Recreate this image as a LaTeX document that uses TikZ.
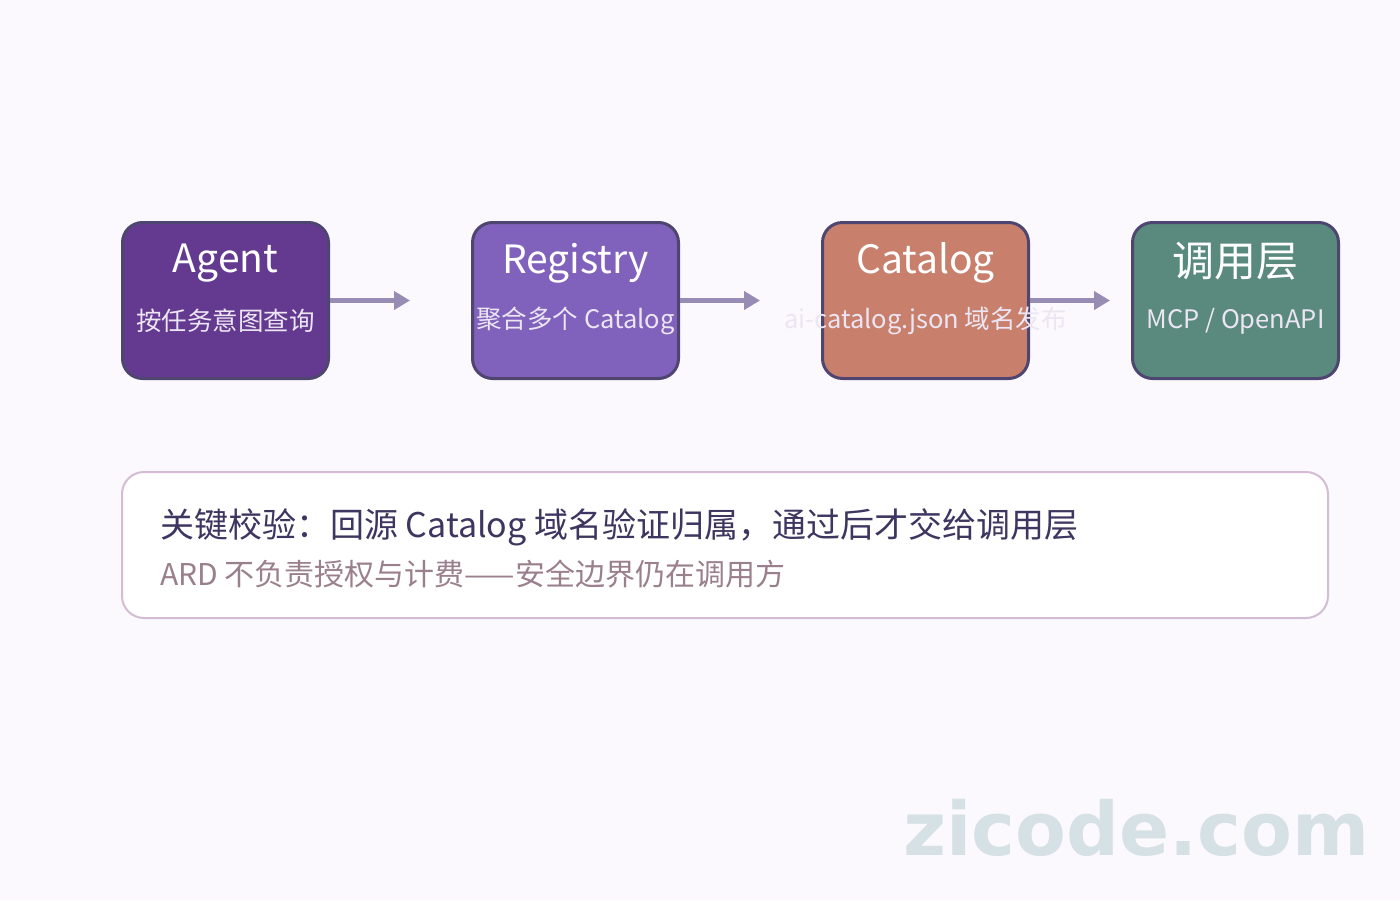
\documentclass[tikz,border=0pt]{standalone}
\usepackage{fontspec}
\setmainfont{Noto Sans CJK SC}
\newfontfamily\markfont{DejaVu Sans}
\usetikzlibrary{arrows.meta}
\definecolor{pagebg}{HTML}{FBF9FE}
\definecolor{stageline}{HTML}{4E4670}
\definecolor{agentfill}{HTML}{643A91}
\definecolor{registryfill}{HTML}{8061BB}
\definecolor{catalogfill}{HTML}{C8806C}
\definecolor{layerfill}{HTML}{5A8A7E}
\definecolor{flowcol}{HTML}{968CB4}
\definecolor{subtext}{HTML}{ECE6F4}
\definecolor{noteline}{HTML}{D4BCD4}
\definecolor{notetext}{HTML}{3E3560}
\definecolor{notesub}{HTML}{9A7F8C}
\definecolor{markcol}{HTML}{D6E1E5}

\tikzset{
  stage/.style={draw=stageline, line width=3pt, rounded corners=20pt,
    minimum width=206pt, minimum height=156pt, inner sep=0pt},
  stagetitle/.style={text=white, font=\fontsize{39}{44}\selectfont, inner sep=0pt},
  stagesub/.style={text=subtext, font=\fontsize{25.5}{30}\selectfont, inner sep=0pt},
  flow/.style={draw=flowcol, line width=5pt, -{Triangle[length=16pt,width=18pt]}},
}

\begin{document}
\begin{tikzpicture}[x=1pt,y=-1pt]
\fill[pagebg] (0,0) rectangle (1400,900);
\useasboundingbox (0,0) rectangle (1400,900);

% the four stages
\node[stage, fill=agentfill] (agent) at (225.5,300.5) {};
\node[stage, fill=registryfill] (registry) at (575.5,300.5) {};
\node[stage, fill=catalogfill] (catalog) at (925.5,300.5) {};
\node[stage, fill=layerfill] (layer) at (1235.5,300.5) {};

\node[stagetitle] (agenttitle) at (225.5,263) {Agent};
\node[stagesub] (agentsub) at (225.5,321) {按任务意图查询};
\node[stagetitle] (registrytitle) at (575.5,263) {Registry};
\node[stagesub] (registrysub) at (575.5,321) {聚合多个 Catalog};
\node[stagetitle] (catalogtitle) at (925.5,263) {Catalog};
\node[stagesub] (catalogsub) at (925.5,321) {ai-catalog.json 域名发布};
\node[stagetitle, font=\fontsize{42}{46}\selectfont] (layertitle) at (1235.5,261) {调用层};
\node[stagesub] (layersub) at (1235.5,321) {MCP / OpenAPI};

\draw[flow, shorten >=61pt] (agent.east) -- (registry.west);
\draw[flow, shorten >=61pt] (registry.east) -- (catalog.west);
\draw[flow, shorten >=21pt] (catalog.east) -- (layer.west);

% note box
\node[draw=noteline, line width=2pt, fill=white, rounded corners=22pt,
  minimum width=1206pt, minimum height=146pt] (note) at (725,545) {};
\node[anchor=west, text=notetext, inner sep=0pt, font=\fontsize{34}{40}\selectfont]
  (notemain) at (160,527) {关键校验：回源 Catalog 域名验证归属，通过后才交给调用层};
\node[anchor=west, text=notesub, inner sep=0pt, font=\fontsize{30}{36}\selectfont]
  (notesmall) at (160,574) {ARD 不负责授权与计费——安全边界仍在调用方};

\node[anchor=base west, text=markcol, inner sep=0pt, font=\markfont\bfseries\fontsize{74}{80}\selectfont]
  (mark) at (903,855) {zicode.com};
\end{tikzpicture}
\end{document}
